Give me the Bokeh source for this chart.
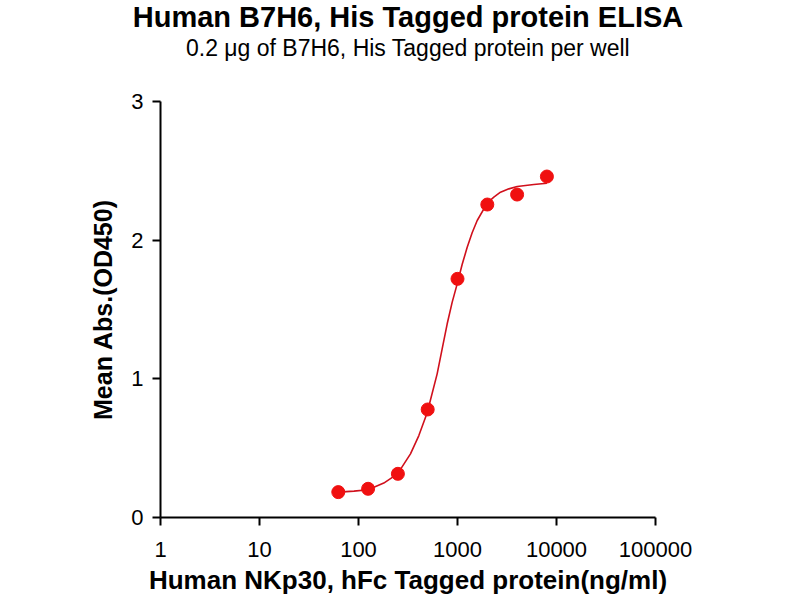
from bokeh.plotting import figure
from bokeh.models import Range1d, FixedTicker, Title
from bokeh.embed import file_html
from bokeh.resources import INLINE

# Measured points
conc = [62.5, 125, 250, 500, 1000, 2000, 4000, 8000]
od450 = [0.183, 0.207, 0.315, 0.779, 1.721, 2.257, 2.329, 2.459]

# Fitted curve
fit_x = [62.5, 90, 125, 180, 248, 335, 407, 494, 623, 700, 787, 884, 993,
         1114, 1253, 1406, 1581, 1995, 2328, 2718, 3304, 4008, 5905, 8000]
fit_y = [0.183, 0.190, 0.200, 0.248, 0.315, 0.459, 0.591, 0.755, 1.036, 1.216,
         1.397, 1.553, 1.685, 1.824, 1.949, 2.053, 2.142, 2.267, 2.310, 2.346,
         2.370, 2.387, 2.401, 2.411]

x_ticks = [1, 10, 100, 1000, 10000, 100000]
x_tick_labels = {1: "1", 10: "10", 100: "100", 1000: "1000", 10000: "10000", 100000: "100000"}
y_ticks = [0, 1, 2, 3]

title_text = "Human B7H6, His Tagged protein ELISA"
subtitle_text = "0.2 \u03bcg of B7H6, His Tagged protein per well"
x_label = "Human NKp30, hFc Tagged protein(ng/ml)"
y_label = "Mean Abs.(OD450)"

FONT = "Liberation Sans"

p = figure(width=800, height=600, x_axis_type="log", output_backend="svg",
           toolbar_location=None, min_border_left=160, min_border_right=145,
           min_border_top=101, min_border_bottom=83)
p.x_range = Range1d(x_ticks[0], x_ticks[-1])
p.y_range = Range1d(y_ticks[0], y_ticks[-1])

# spacer between the subtitle and the plot frame
p.add_layout(Title(text=" ", text_font=FONT, text_font_size="1px",
                   standoff=36), "above")
p.add_layout(Title(text=subtitle_text, align="center", vertical_align="top",
                   text_font=FONT, text_font_size="23px", text_font_style="normal",
                   text_color="black", standoff=0), "above")
p.add_layout(Title(text=title_text, align="center", vertical_align="top",
                   text_font=FONT, text_font_size="29px", text_font_style="bold",
                   text_color="black", standoff=0), "above")

p.line(fit_x, fit_y, line_color="#D0101C", line_width=1.6)
p.scatter(conc, od450, size=13, fill_color="#F01010", line_color="#F01010")

p.grid.visible = False
p.outline_line_color = None

for ax in (p.xaxis[0], p.yaxis[0]):
    ax.axis_line_width = 2
    ax.axis_line_color = "black"
    ax.major_tick_line_width = 2
    ax.major_tick_line_color = "black"
    ax.major_tick_out = 8
    ax.major_tick_in = 0
    ax.minor_tick_line_color = None
    ax.major_label_text_font = FONT
    ax.major_label_text_font_size = "22px"
    ax.major_label_text_color = "black"
    ax.axis_label_text_font = FONT
    ax.axis_label_text_font_style = "bold"
    ax.axis_label_text_color = "black"

p.xaxis[0].ticker = FixedTicker(ticks=x_ticks)
p.xaxis[0].major_label_overrides = x_tick_labels
p.xaxis[0].major_label_standoff = 16
p.xaxis[0].axis_label = x_label
p.xaxis[0].axis_label_text_font_size = "26px"
p.xaxis[0].axis_label_standoff = 5

p.yaxis[0].ticker = FixedTicker(ticks=y_ticks)
p.yaxis[0].major_label_standoff = 9
p.yaxis[0].axis_label = y_label
p.yaxis[0].axis_label_text_font_size = "25px"
p.yaxis[0].axis_label_standoff = 11

open("out.html", "w").write(file_html(p, INLINE))
